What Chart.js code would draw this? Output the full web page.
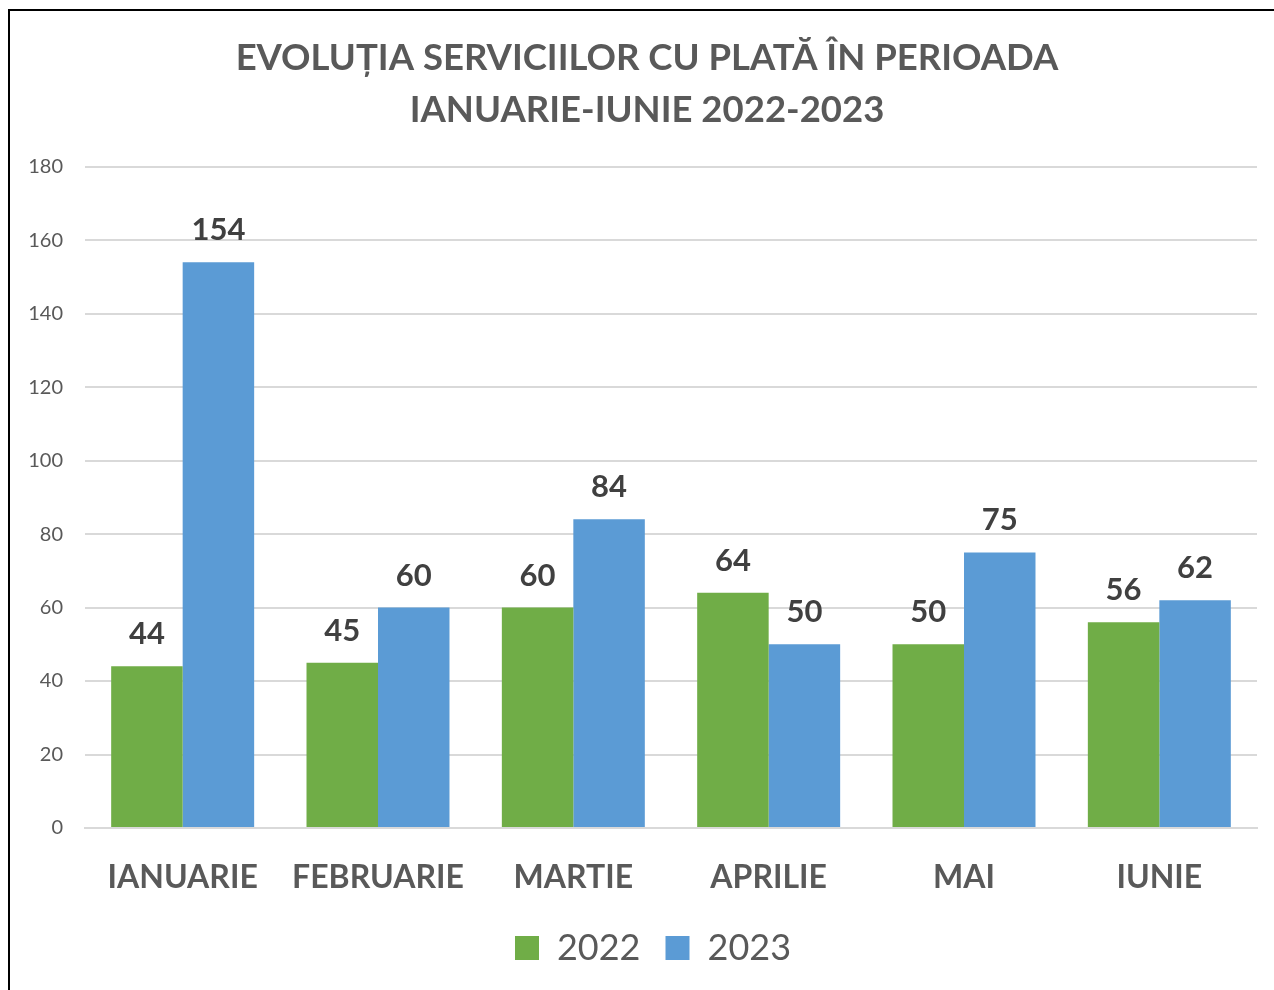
<!DOCTYPE html>
<html><head><meta charset="utf-8">
<script src="https://cdn.jsdelivr.net/npm/chart.js@4/dist/chart.umd.min.js"></script>
<style>
html,body{margin:0;padding:0;background:#fff;overflow:hidden}
#frame{position:absolute;left:8px;top:9px;width:1300px;height:1000px;border-left:2px solid #000;border-top:2px solid #000;box-sizing:border-box}
#wrap{position:absolute;left:0;top:0;width:1274px;height:990px}
</style></head><body>
<div id="frame"></div>
<div id="wrap"><canvas id="c" width="1274" height="990"></canvas></div>
<script>
const categories = ["IANUARIE","FEBRUARIE","MARTIE","APRILIE","MAI","IUNIE"];
const values2022 = [44,45,60,64,50,56];
const values2023 = [154,60,84,50,75,62];
const seriesNames = ["2022","2023"];
const titleLines = ["EVOLUȚIA SERVICIILOR CU PLATĂ ÎN PERIOADA","IANUARIE-IUNIE 2022-2023"];
const yTicks = [0,20,40,60,80,100,120,140,160,180];

const FONT = "Lato, 'Open Sans', sans-serif";

const labelPlugin = {
  id:'barLabels',
  afterLayout(chart){
    if(chart.titleBlock){chart.titleBlock.left+=6;chart.titleBlock.right+=6;}
    if(chart.legend){chart.legend.left+=12;chart.legend.right+=12;}
  },
  afterDatasetsDraw(chart){
    const ctx = chart.ctx;
    ctx.save();
    ctx.font = "bold 31px " + FONT;
    ctx.fillStyle = "#404040";
    ctx.textAlign = "center";
    ctx.textBaseline = "alphabetic";
    chart.data.datasets.forEach((ds,i)=>{
      chart.getDatasetMeta(i).data.forEach((bar,j)=>{
        ctx.fillText(String(ds.data[j]), bar.x, bar.y - 22);
      });
    });
    ctx.restore();
  }
};

new Chart(document.getElementById('c'),{
  type:'bar',
  data:{
    labels:categories,
    datasets:[
      {label:seriesNames[0],data:values2022,backgroundColor:'#70ad47'},
      {label:seriesNames[1],data:values2023,backgroundColor:'#5b9bd5'}
    ]
  },
  options:{
    responsive:false,
    animation:false,
    devicePixelRatio:1,
    layout:{padding:{top:11,left:25,right:17,bottom:14}},
    datasets:{bar:{categoryPercentage:0.732,barPercentage:1}},
    plugins:{
      title:{display:true,text:titleLines,color:'#595959',font:{family:FONT,size:36.5,weight:'bold',lineHeight:1.42},padding:{top:21,bottom:31}},
      legend:{position:'bottom',labels:{color:'#595959',font:{family:FONT,size:36},boxWidth:24,boxHeight:24,padding:25}},
      tooltip:{enabled:false}
    },
    scales:{
      x:{grid:{display:false},border:{display:true,color:'#d9d9d9',width:2},
         ticks:{color:'#595959',font:{family:FONT,size:32,weight:'bold'},padding:22},
         afterFit(s){s.height=77;}},
      y:{min:0,max:180,afterBuildTicks(s){s.ticks=yTicks.map(v=>({value:v}));},
         grid:{color:'#d9d9d9',lineWidth:2,drawTicks:false},border:{display:false},
         ticks:{color:'#595959',font:{family:FONT,size:20},padding:22},
         afterFit(s){s.width=60;}}
    }
  },
  plugins:[labelPlugin]
});
</script>
</body></html>
